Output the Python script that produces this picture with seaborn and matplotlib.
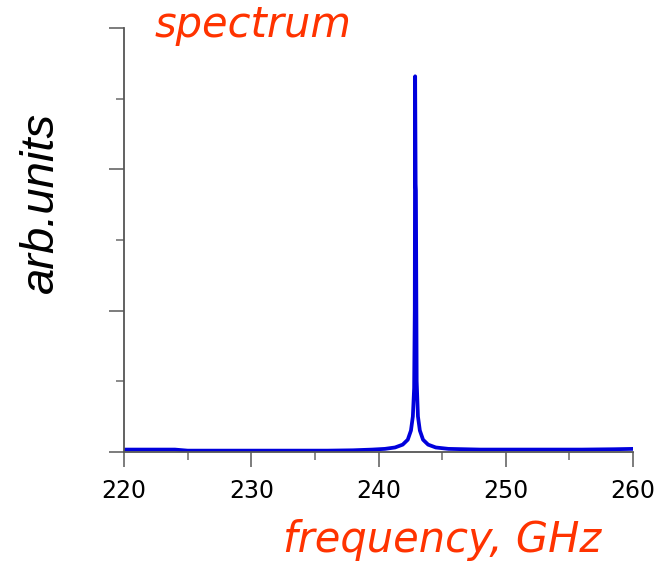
import matplotlib
matplotlib.use("Agg")
import matplotlib.pyplot as plt
import seaborn as sns
import pandas as pd
from matplotlib.ticker import MultipleLocator, NullFormatter

freq = [220.0, 222.0, 224.0, 225.0, 228.0, 232.0, 236.0, 238.0, 239.5, 240.5,
        241.3, 241.9, 242.3, 242.55, 242.7, 242.8, 242.85, 242.88, 242.92, 242.94,
        243.0, 243.1, 243.25, 243.5, 243.9, 244.5, 245.5, 248.0, 252.0, 256.0,
        258.5, 260.0]
amp = [0.03, 0.03, 0.03, 0.015, 0.015, 0.015, 0.015, 0.02, 0.03, 0.04,
       0.06, 0.10, 0.17, 0.30, 0.50, 0.9, 2.0, 5.32, 3.79, 3.7,
       1.0, 0.5, 0.3, 0.17, 0.10, 0.06, 0.04, 0.03, 0.03, 0.03,
       0.035, 0.04]
xticks = [220, 230, 240, 250, 260]

df = pd.DataFrame({"freq": freq, "amp": amp})

sns.set_theme(style="white")
plt.rcParams['font.family'] = ['Liberation Sans', 'DejaVu Sans']

fig = plt.figure(figsize=(6.64, 5.65), dpi=100)
ax = fig.add_axes([124/664, 1-451.7/565, (633-124)/664, (451.7-28.3)/565])

sns.lineplot(data=df, x="freq", y="amp", ax=ax, color="#0000dc", linewidth=2.7, estimator=None, sort=False)

ax.set_xlim(220, 260)
ax.set_ylim(0, 6)
ax.set_xticks(xticks)
ax.set_xticklabels([str(t) for t in xticks], family="DejaVu Sans")
ax.xaxis.set_minor_locator(MultipleLocator(5))
ax.yaxis.set_major_locator(MultipleLocator(2))
ax.yaxis.set_minor_locator(MultipleLocator(1))
ax.yaxis.set_major_formatter(NullFormatter())
ax.set_xlabel("")
ax.set_ylabel("")

for s in ["top", "right"]:
    ax.spines[s].set_visible(False)
for s in ["left", "bottom"]:
    ax.spines[s].set_color("#555555")
    ax.spines[s].set_linewidth(1.3)

ax.tick_params(axis="both", which="major", direction="out", length=11, width=1.2,
               color="#666666", labelsize=17, labelcolor="black", bottom=True, left=True)
ax.tick_params(axis="both", which="minor", direction="out", length=6, width=1.2,
               color="#777777", bottom=True, left=True)
ax.tick_params(axis="x", which="major", pad=9)

fig.text(155/664, 1-37/565, "spectrum", color="#ff3300", fontsize=30,
         style="italic", family="DejaVu Sans", ha="left", va="baseline")
fig.text(283/664, 1-552/565, "frequency, GHz", color="#ff3300", fontsize=30,
         style="italic", family="DejaVu Sans", ha="left", va="baseline")
fig.text(41/664, 1-202/565, "arb.units", color="black", fontsize=34,
         style="italic", rotation=90, ha="center", va="center")

fig.savefig("out.png", dpi=100)
